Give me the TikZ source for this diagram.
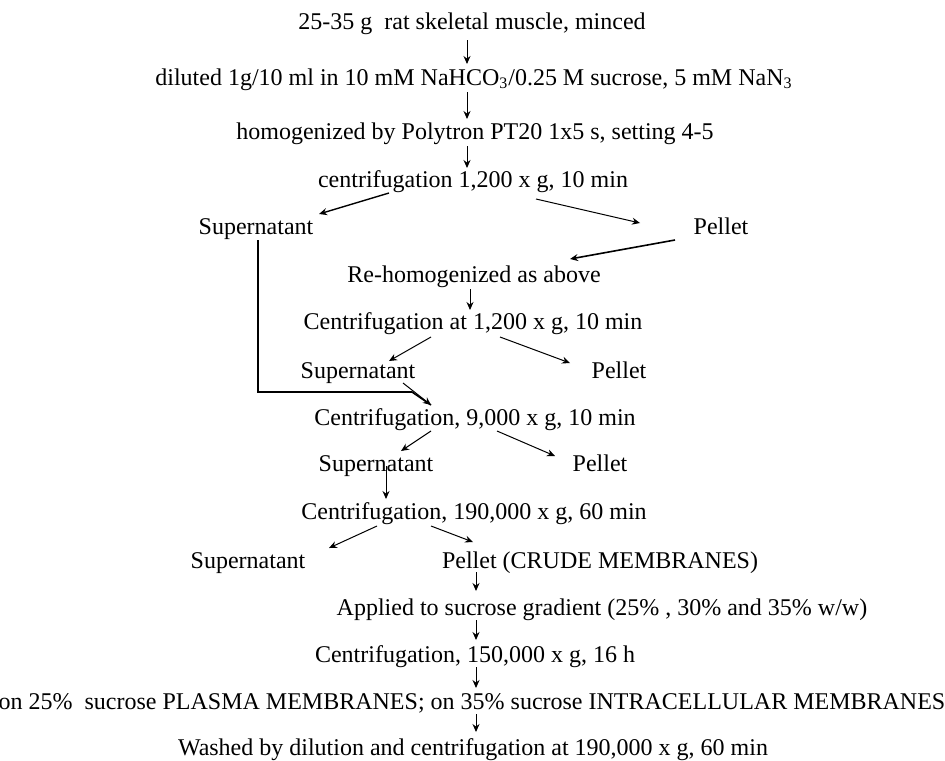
\documentclass[tikz,border=0pt]{standalone}
\usepackage{fontspec}
\setmainfont{Liberation Serif}
\usetikzlibrary{arrows.meta,calc}

\begin{document}
\begin{tikzpicture}[x=0.5pt, y=-0.5pt,
    every node/.style={inner sep=0pt, anchor=base, font=\fontsize{12}{14}\selectfont},
    flow/.style={line width=0.5pt, -{Stealth[length=4pt,width=3.5pt]}}]
    \useasboundingbox (0,0) rectangle (945,760);
    % main column
    \node (musc) at (472,29) {25-35 g\ \ rat skeletal muscle, minced};
    \node (dil) at (474,85) {diluted 1g/10 ml in 10 mM NaHCO\textsubscript{3}/0.25 M sucrose, 5 mM NaN\textsubscript{3}};
    \node (homog) at (475,139) {homogenized by Polytron PT20 1x5 s, setting 4-5};
    \node (cfa) at (473,187) {centrifugation 1,200 x g, 10 min};
    \node (supa) at (256,234) {Supernatant};
    \node (pela) at (721,234) {Pellet};
    \node (rehom) at (474,282) {Re-homogenized as above};
    \node (cfb) at (473,329) {Centrifugation at 1,200 x g, 10 min};
    \node (supb) at (358,378) {Supernatant};
    \node (pelb) at (619,378) {Pellet};
    \node (cfc) at (475,425) {Centrifugation, 9,000 x g, 10 min};
    \node (supc) at (376,471) {Supernatant};
    \node (pelc) at (600,471) {Pellet};
    \node (cfd) at (474,519) {Centrifugation, 190,000 x g, 60 min};
    \node (supd) at (248,568) {Supernatant};
    \node (crude) at (600,568) {Pellet (CRUDE MEMBRANES)};
    \node (grad) at (602,615) {Applied to sucrose gradient (25\% , 30\% and 35\% w/w)};
    \node (cfe) at (475,662) {Centrifugation, 150,000 x g, 16 h};
    \node (bands) at (472,709) {on 25\%\ \ sucrose PLASMA MEMBRANES; on 35\% sucrose INTRACELLULAR MEMBRANES};
    \node (wash) at (473,755) {Washed by dilution and centrifugation at 190,000 x g, 60 min};

    % arrows
    \draw[flow] ($(musc.base)+(-5,11)$) -- ($(dil.base)+(-7,-21)$);
    \draw[flow] ($(dil.base)+(-7,7)$) -- ($(homog.base)+(-8,-20)$);
    \draw[flow] ($(homog.base)+(-8,7)$) -- ($(cfa.base)+(-6,-19)$);
    \draw[flow, line width=0.7pt] ($(cfa.base)+(-84,6)$) -- ($(supa.base)+(63,-20)$);
    \draw[flow] ($(cfa.base)+(63,12)$) -- ($(pela.base)+(-81,-11)$);
    \draw[flow, thick] ($(pela.base)+(-46,6)$) -- ($(rehom.base)+(96,-23)$);
    \draw[flow] ($(rehom.base)+(-4,7)$) -- ($(cfb.base)+(-3,-19)$);
    \draw[flow] ($(cfb.base)+(-42,8)$) -- ($(supb.base)+(31,-17)$);
    \draw[flow] ($(cfb.base)+(27,8)$) -- ($(pelb.base)+(-49,-15)$);
    % first supernatant joins the second
    \draw[thick] ($(supa.base)+(2,6)$) |- ($(cfc.base)+(-63,-33)$) -- ($(cfc.base)+(-44,-20)$);
    \draw[flow] ($(supb.base)+(45,5)$) -- ($(cfc.base)+(-44,-20)$);
    \draw[flow] ($(cfc.base)+(-44,6)$) -- ($(supc.base)+(25,-20)$);
    \draw[flow] ($(cfc.base)+(22,6)$) -- ($(pelc.base)+(-45,-15)$);
    \draw[flow] ($(supc.base)+(10,-5)$) -- ($(cfd.base)+(-88,-20)$);
    \draw[flow] ($(cfd.base)+(-97,7)$) -- ($(supd.base)+(81,-20)$);
    \draw[flow] ($(cfd.base)+(-43,7)$) -- ($(crude.base)+(-127,-26)$);
    \draw[flow] ($(crude.base)+(-124,4)$) -- ($(grad.base)+(-126,-24)$);
    \draw[flow] ($(grad.base)+(-126,5)$) -- ($(cfe.base)+(1,-22)$);
    \draw[flow] ($(cfe.base)+(1,5)$) -- ($(bands.base)+(4,-21)$);
    \draw[flow] ($(bands.base)+(4,5)$) -- ($(wash.base)+(3,-23)$);
\end{tikzpicture}
\end{document}
